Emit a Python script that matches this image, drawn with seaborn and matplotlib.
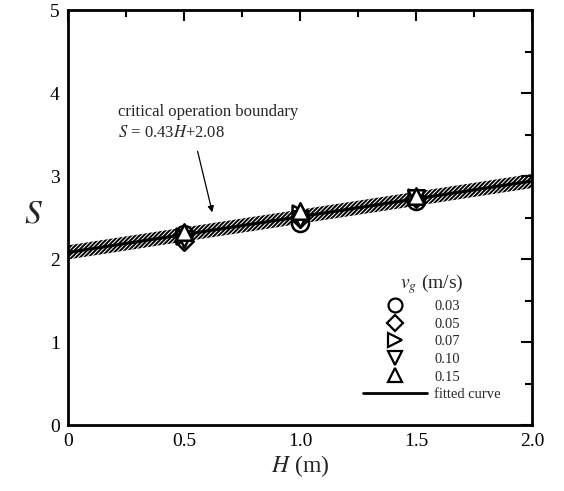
import matplotlib
matplotlib.use("Agg")
import matplotlib.pyplot as plt
from matplotlib.lines import Line2D
import numpy as np
import pandas as pd
import seaborn as sns

# ---- data ----
H_vals = [0.5, 1.0, 1.5]
vg_labels = ["0.03", "0.05", "0.07", "0.10", "0.15"]
S_003 = [2.30, 2.43, 2.70]
S_005 = [2.22, 2.50, 2.74]
S_007 = [2.28, 2.56, 2.75]
S_010 = [2.24, 2.48, 2.73]
S_015 = [2.33, 2.58, 2.76]
fit_slope = 0.43
fit_intercept = 2.08
fit_H = [0.0, 2.0]
band_half = 0.085

sns.set_theme(style="white")
plt.rcParams["font.family"] = ["Liberation Serif", "DejaVu Serif"]
plt.rcParams["mathtext.fontset"] = "stix"
plt.rcParams["hatch.linewidth"] = 1.4

rows = []
for lab, vals in zip(vg_labels, [S_003, S_005, S_007, S_010, S_015]):
    for h, s in zip(H_vals, vals):
        rows.append({"H": h, "S": s, "vg": lab})
df = pd.DataFrame(rows)

fit_S = [fit_slope * h + fit_intercept for h in fit_H]
fit_df = pd.DataFrame({"H": fit_H, "S": fit_S})

fig = plt.figure(figsize=(5.64, 4.91), dpi=100)
ax = fig.add_axes([0.1206, 0.1344, 0.8224, 0.8452])

# hatched band
ax.fill_between(fit_H, [s - band_half for s in fit_S], [s + band_half for s in fit_S],
                facecolor="none", edgecolor="black", hatch="////////", linewidth=0, zorder=1)
sns.lineplot(data=fit_df, x="H", y="S", color="black", lw=2.2, ax=ax, zorder=2, legend=False)

markers = {"0.03": "o", "0.05": "D", "0.07": ">", "0.10": "v", "0.15": "^"}
sizes_map = {"0.03": 150, "0.05": 90, "0.07": 130, "0.10": 140, "0.15": 140}
for lab in vg_labels:
    sub = df[df["vg"] == lab]
    sns.scatterplot(data=sub, x="H", y="S", marker=markers[lab], s=sizes_map[lab],
                    facecolor="white", edgecolor="black", linewidth=1.8, ax=ax, zorder=3,
                    legend=False)

ax.set_xlim(0, 2.0)
ax.set_ylim(0, 5)
ax.set_xticks([0, 0.5, 1.0, 1.5, 2.0])
ax.set_xticklabels(["0", "0.5", "1.0", "1.5", "2.0"])
ax.set_yticks([0, 1, 2, 3, 4, 5])
ax.set_yticklabels(["0", "1", "2", "3", "4", "5"])
ax.set_xticks(np.arange(0.25, 2.0, 0.5), minor=True)
ax.set_yticks(np.arange(0.5, 5.0, 1.0), minor=True)
ax.tick_params(which="both", direction="in", top=True, right=True, colors="black",
               labelsize=14, width=1.5, pad=6)
ax.tick_params(which="major", length=8)
ax.tick_params(which="minor", length=5)
for sp in ax.spines.values():
    sp.set_linewidth(2.0)
    sp.set_color("black")

ax.set_xlabel(r"$H$ (m)", fontsize=17, labelpad=2)
ax.set_ylabel(r"$S$", fontsize=24, rotation=0, labelpad=14)
ax.yaxis.set_label_coords(-0.075, 0.47)

ax.text(0.215, 3.77, "critical operation boundary", fontsize=12, ha="left", va="center")
ax.text(0.215, 3.52, r"$S$ = 0.43$H$+2.08", fontsize=12, ha="left", va="center")
ax.annotate("", xy=(0.625, 2.53), xytext=(0.556, 3.33),
            arrowprops=dict(arrowstyle="-|>", color="black", lw=0.9, mutation_scale=9))

handles = [Line2D([], [], marker=markers[l], linestyle="none", markersize=10 if l != "0.05" else 8,
                  markerfacecolor="white", markeredgecolor="black", markeredgewidth=1.6)
           for l in vg_labels]
handles.append(Line2D([], [], color="black", lw=2))
labels = vg_labels + ["fitted curve"]
leg = ax.legend(handles, labels, title=r"$v_g$ (m/s)", loc="lower right",
                bbox_to_anchor=(0.962, 0.026), frameon=False, fontsize=10.5,
                handlelength=4.4, labelspacing=0.3, handletextpad=0.5)
leg.get_title().set_fontsize(14)

fig.savefig("out.png", dpi=100)
